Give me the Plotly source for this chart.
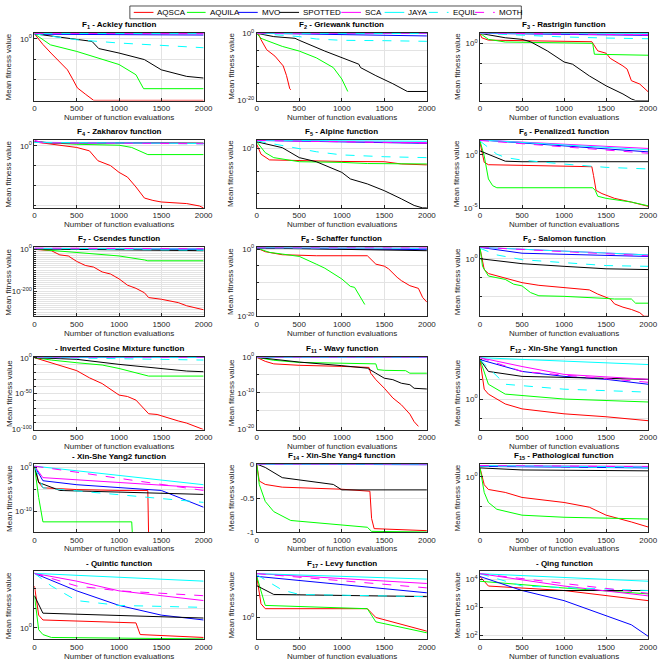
import numpy as np
import plotly.graph_objects as go

W, H = 669, 671
NAMES = ["AQSCA", "AQUILA", "MVO", "SPOTTED", "SCA", "JAYA", "EQUIL", "MOTH"]
COLORS = {"AQSCA": "#ff0000", "AQUILA": "#00ff00", "MVO": "#0000ff", "SPOTTED": "#000000",
          "SCA": "#ff00ff", "JAYA": "#00ffff", "EQUIL": "#00ffff", "MOTH": "#ff00ff"}
DASH = {"EQUIL": "dash", "MOTH": "dash"}

X_TICKS = [0, 500, 1000, 1500, 2000]

# values are log10 of mean fitness (except F14, linear)
F1 = {
    "AQSCA": ([0, 100, 195, 300, 390, 450, 507, 600, 700, 2000], [1.2, -1.4, -3.5, -5.6, -7.6, -9.8, -12.0, -13.5, -15.05, -15.05]),
    "AQUILA": ([0, 190, 500, 800, 1000, 1200, 1290, 2000], [1.2, -1.5, -3.1, -5.1, -6.3, -8.8, -12.2, -12.2]),
    "MVO": ([0, 2000], [1.1, 0.9]),
    "SPOTTED": ([0, 500, 680, 760, 1000, 1300, 1500, 1800, 2000], [1.2, -0.25, -0.65, -2.4, -3.5, -5.1, -7.6, -9.2, -9.6]),
    "SCA": ([0, 2000], [1.3, 1.2]),
    "JAYA": ([0, 2000], [1.3, 1.25]),
    "EQUIL": ([0, 500, 1000, 1500, 2000], [1.2, -0.25, -1.05, -1.7, -2.2]),
    "MOTH": ([0, 2000], [1.3, 1.3]),
}
F2 = {
    "AQSCA": ([20, 50, 117, 214, 311, 350, 388, 400], [-0.2, -1.9, -4.9, -6.8, -9.7, -12.6, -16.5, -16.8]),
    "AQUILA": ([0, 50, 110, 300, 500, 700, 900, 1000, 1070], [-0.1, -1.5, -2.1, -3.9, -5.3, -7.3, -10.2, -13.6, -17.3]),
    "MVO": ([0, 1000, 2000], [0.0, -0.3, -0.8]),
    "SPOTTED": ([0, 200, 450, 500, 800, 1000, 1200, 1220, 1400, 1600, 1770, 2000], [0.0, -1.0, -1.5, -2.1, -5.3, -7.3, -9.2, -10.2, -12.6, -15.0, -17.3, -17.3]),
    "SCA": ([0, 2000], [0.0, -0.05]),
    "JAYA": ([0, 2000], [0.0, -0.1]),
    "EQUIL": ([0, 500, 700, 1000, 1500, 2000], [0.0, -1.0, -1.7, -2.1, -2.2, -2.4]),
    "MOTH": ([0, 2000], [0.0, 0.0]),
}
F3 = {
    "AQSCA": ([0, 20, 100, 500, 1000, 1330, 1360, 1400, 1500, 1550, 1700, 1750, 1800, 1900, 2000], [2.5, 1.4, 0.8, 0.6, 0.5, 0.4, -0.7, -1.9, -2.5, -3.8, -5.7, -6.5, -9.4, -10.25, -12.2]),
    "AQUILA": ([0, 100, 300, 1000, 1340, 1360, 2000], [2.5, 1.0, 0.33, 0.0, 0.0, -2.75, -3.0]),
    "MVO": ([0, 1000, 2000], [2.5, 2.2, 2.0]),
    "SPOTTED": ([0, 300, 500, 600, 800, 1000, 1100, 1300, 1500, 1700, 1800, 1850, 2000], [2.5, 1.4, 1.0, 0.4, -1.9, -4.7, -5.25, -8.2, -10.7, -12.75, -14.0, -14.4, -14.4]),
    "SCA": ([0, 1000, 2000], [2.6, 2.4, 2.25]),
    "JAYA": ([0, 2000], [2.6, 2.5]),
    "EQUIL": ([0, 500, 1000, 1500, 2000], [2.5, 2.0, 1.6, 1.33, 1.15]),
    "MOTH": ([0, 1000, 2000], [2.6, 2.3, 2.1]),
}
F4 = {
    "AQSCA": ([0, 200, 500, 650, 750, 900, 1000, 1100, 1200, 1300, 1400, 1500, 1800, 1950, 2000], [1.0, 0.4, -0.4, -1.25, -3.75, -5.0, -6.7, -7.9, -10.4, -13.2, -13.8, -14.2, -14.6, -15.2, -15.7]),
    "AQUILA": ([0, 500, 1000, 1150, 1340, 2000], [1.0, 0.4, 0.17, -0.4, -2.2, -2.2]),
    "MVO": ([0, 2000], [0.9, 0.6]),
    "SPOTTED": ([0, 200, 2000], [1.1, 0.75, 0.7]),
    "SCA": ([0, 100, 2000], [1.4, 0.8, 0.6]),
    "JAYA": ([0, 2000], [0.9, 0.6]),
    "EQUIL": ([0, 2000], [0.9, 0.5]),
    "MOTH": ([0, 100, 2000], [1.3, 0.8, 0.55]),
}
F5 = {
    "AQSCA": ([0, 50, 150, 500, 1000, 1500, 1700, 2000], [0.95, -1.25, -2.5, -2.7, -2.85, -2.9, -3.4, -3.6]),
    "AQUILA": ([0, 100, 200, 500, 1000, 1300, 2000], [1.5, -0.9, -2.0, -2.9, -3.05, -3.3, -3.4]),
    "MVO": ([0, 2000], [1.8, 1.15]),
    "SPOTTED": ([0, 300, 500, 700, 1000, 1100, 1300, 1500, 1700, 1850, 1950, 2000], [1.5, 0.2, -2.0, -2.9, -5.25, -6.7, -7.8, -9.3, -11.1, -12.55, -13.1, -13.1]),
    "SCA": ([0, 2000], [1.85, 1.3]),
    "JAYA": ([0, 2000], [1.85, 1.6]),
    "EQUIL": ([0, 300, 700, 1000, 1500, 2000], [1.7, 0.6, -0.7, -1.4, -1.8, -2.0]),
    "MOTH": ([0, 2000], [1.8, 1.2]),
}
F6 = {
    "AQSCA": ([0, 50, 100, 500, 1000, 1330, 1350, 1380, 1450, 1600, 1800, 2000], [1.15, -0.7, -0.93, -1.0, -1.1, -1.12, -1.95, -3.35, -3.65, -4.1, -4.45, -4.85]),
    "AQUILA": ([0, 50, 100, 150, 200, 1000, 1340, 1370, 1400, 1500, 1800, 2000], [1.3, -0.1, -2.27, -2.9, -3.1, -3.1, -3.1, -3.35, -3.9, -4.1, -4.45, -4.8]),
    "MVO": ([0, 1000, 2000], [1.4, 0.84, 0.28]),
    "SPOTTED": ([0, 100, 200, 300, 500, 2000], [0.37, 0.06, -0.3, -0.6, -0.65, -0.65]),
    "SCA": ([0, 1000, 2000], [1.4, 1.0, 0.6]),
    "JAYA": ([0, 1000, 2000], [1.4, 0.9, 0.47]),
    "EQUIL": ([0, 100, 200, 300, 500, 1000, 1500, 2000], [1.3, 0.7, 0.06, -0.25, -0.5, -0.87, -1.18, -1.33]),
    "MOTH": ([0, 1000, 2000], [1.35, 0.75, 0.15]),
}
F7 = {
    "AQSCA": ([0, 200, 300, 400, 500, 600, 700, 800, 900, 1000, 1100, 1200, 1300, 1350, 1500, 1700, 1800, 1900, 2000], [-1.5, -8, -28, -33, -59, -78, -86, -109, -119, -142, -172, -187, -208, -231, -239, -255, -270, -278, -289]),
    "AQUILA": ([0, 500, 1000, 1300, 1340, 2000], [0, -16, -33, -52, -56, -56]),
    "MVO": ([0, 2000], [2, -2]),
    "SPOTTED": ([0, 2000], [0, -8]),
    "SCA": ([0, 2000], [4, 2]),
    "JAYA": ([0, 2000], [3, 0]),
    "EQUIL": ([0, 2000], [2, -6]),
    "MOTH": ([0, 2000], [4, 1]),
}
F8 = {
    "AQSCA": ([0, 100, 300, 500, 700, 1300, 1400, 1500, 1550, 1650, 1700, 1800, 1900, 1950, 2000], [0.3, -0.8, -1.7, -1.8, -2.0, -2.0, -4.5, -5.1, -5.9, -8.4, -9.4, -10.9, -11.7, -14.4, -15.8]),
    "AQUILA": ([0, 150, 300, 500, 700, 800, 1000, 1100, 1150, 1200, 1270], [0.3, -1.0, -1.5, -2.2, -4.5, -5.7, -8.9, -11.1, -11.4, -13.4, -16.5]),
    "MVO": ([0, 2000], [0.3, -0.2]),
    "SPOTTED": ([0, 2000], [0.3, -0.5]),
    "SCA": ([0, 2000], [0.4, 0.3]),
    "JAYA": ([0, 2000], [0.4, 0.2]),
    "EQUIL": ([0, 2000], [0.4, 0.1]),
    "MOTH": ([0, 2000], [0.4, 0.3]),
}
F9 = {
    "AQSCA": ([0, 30, 50, 100, 200, 300, 500, 700, 1000, 1300, 1400, 1550, 1600, 1700, 1800, 1900, 1950, 2000], [0.55, -0.22, -0.57, -0.78, -0.91, -1.03, -1.26, -1.4, -1.52, -1.64, -1.86, -2.12, -2.38, -2.55, -2.67, -2.84, -3.03, -3.03]),
    "AQUILA": ([0, 30, 100, 200, 300, 400, 500, 600, 700, 1000, 1300, 1500, 1600, 1800, 1850, 2000], [0.6, -0.4, -0.91, -1.0, -1.09, -1.34, -1.43, -1.78, -1.95, -1.98, -2.03, -2.09, -2.12, -2.12, -2.34, -2.34]),
    "MVO": ([0, 500, 2000], [0.6, 0.29, 0.12]),
    "SPOTTED": ([0, 500, 1000, 1500, 2000], [0.0, -0.26, -0.4, -0.53, -0.57]),
    "SCA": ([0, 2000], [0.6, 0.2]),
    "JAYA": ([0, 2000], [0.6, 0.2]),
    "EQUIL": ([0, 200, 500, 1000, 1500, 2000], [0.55, 0.2, -0.05, -0.22, -0.36, -0.4]),
    "MOTH": ([0, 2000], [0.6, 0.15]),
}
F10 = {
    "AQSCA": ([0, 200, 400, 500, 650, 800, 1000, 1100, 1200, 1350, 1450, 1550, 1700, 1800, 2000], [0, -7, -14, -18, -28, -36, -52, -54, -59, -78, -79, -83, -88, -91, -100]),
    "AQUILA": ([0, 200, 500, 800, 1000, 1100, 1300, 1350, 2000], [0, -3.3, -7, -10.2, -15, -18, -24, -25.6, -25.6]),
    "MVO": ([0, 2000], [0.5, 0.3]),
    "SPOTTED": ([0, 500, 1000, 1500, 1800, 2000], [0, -2.3, -9.3, -15, -18.6, -19.5]),
    "SCA": ([0, 2000], [0.8, 0.6]),
    "JAYA": ([0, 2000], [0.8, 0.4]),
    "EQUIL": ([0, 2000], [0.5, -3.3]),
    "MOTH": ([0, 2000], [0.8, 0.6]),
}
F11 = {
    "AQSCA": ([0, 100, 200, 500, 1000, 1320, 1340, 1400, 1500, 1600, 1700, 1800, 1850, 1900], [-0.1, -1.2, -1.9, -2.3, -2.6, -2.9, -4.5, -6.3, -8.7, -11.4, -13.3, -15.9, -18.0, -19.3]),
    "AQUILA": ([0, 200, 500, 1000, 1400, 1420, 1500, 1750, 1800, 2000], [-0.1, -0.9, -1.5, -1.7, -1.9, -3.5, -3.7, -3.8, -4.5, -4.5]),
    "MVO": ([0, 2000], [0.0, -0.05]),
    "SPOTTED": ([0, 500, 1000, 1300, 1400, 1500, 1600, 1700, 1800, 1850, 2000], [-0.1, -1.4, -2.4, -3.1, -4.5, -5.9, -6.3, -7.3, -7.7, -8.7, -8.9]),
    "SCA": ([0, 2000], [0.0, 0.0]),
    "JAYA": ([0, 2000], [0.0, 0.0]),
    "EQUIL": ([0, 2000], [0.0, -0.02]),
    "MOTH": ([0, 2000], [0.0, 0.0]),
}
F12 = {
    "AQSCA": ([0, 50, 100, 300, 500, 1000, 1500, 2000], [10, 2.5, 1.25, -1.25, -2.5, -3.75, -4.5, -5.5]),
    "AQUILA": ([0, 100, 300, 1000, 2000], [10, 3.75, 1.25, 0, -0.75]),
    "MVO": ([0, 500, 1000, 1500, 2000], [10, 7, 5.75, 5, 3.75]),
    "SPOTTED": ([0, 100, 500, 2000], [10, 7, 5.75, 5]),
    "SCA": ([0, 500, 1000, 2000], [10.5, 8.25, 6.25, 5]),
    "JAYA": ([0, 2000], [10.5, 8.75]),
    "EQUIL": ([0, 300, 1000, 2000], [10, 3.75, 2.5, 1.75]),
    "MOTH": ([0, 500, 2000], [10.5, 7, 4.25]),
}
F13 = {
    "AQSCA": ([0, 50, 100, 500, 1000, 1340, 1350], [0.2, -3.5, -4.7, -5.1, -5.3, -5.3, -16]),
    "AQUILA": ([0, 50, 100, 1150, 1160], [0.2, -6.9, -12.4, -12.4, -16]),
    "MVO": ([0, 100, 500, 1500, 2000], [0.2, -3.1, -4.0, -5.3, -9.1]),
    "SPOTTED": ([0, 50, 300, 2000], [0.2, -3.5, -5.3, -6.2]),
    "SCA": ([0, 100, 1000, 2000], [0.2, -2.4, -3.5, -4.7]),
    "JAYA": ([0, 2000], [0.2, -4.0]),
    "EQUIL": ([0, 100, 2000], [0.2, -4.7, -8.0]),
    "MOTH": ([0, 2000], [0.2, -5.3]),
}
F14 = {
    "AQSCA": ([0, 30, 100, 300, 1000, 1330, 1350, 1380, 2000], [0, -0.25, -0.3, -0.34, -0.37, -0.4, -0.8, -0.95, -0.98]),
    "AQUILA": ([0, 30, 100, 200, 400, 1000, 1300, 1350, 2000], [0, -0.3, -0.55, -0.7, -0.83, -0.9, -0.93, -0.99, -1.0]),
    "MVO": ([0, 2000], [0, -0.01]),
    "SPOTTED": ([0, 100, 300, 600, 900, 1000, 2000], [0, -0.05, -0.2, -0.25, -0.3, -0.38, -0.38]),
    "SCA": ([0, 2000], [0, 0]),
    "JAYA": ([0, 2000], [0, 0]),
    "EQUIL": ([0, 2000], [0, 0]),
    "MOTH": ([0, 2000], [0, 0]),
}
F15 = {
    "AQSCA": ([0, 50, 100, 300, 500, 1000, 1300, 1500, 1800, 2000], [0.3, -0.27, -0.43, -0.53, -0.7, -0.87, -1.03, -1.3, -1.53, -1.7]),
    "AQUILA": ([0, 50, 100, 200, 500, 1000, 2000], [0.3, -0.53, -0.87, -1.1, -1.3, -1.37, -1.43]),
    "MVO": ([0, 2000], [0.35, 0.3]),
    "SPOTTED": ([0, 500, 2000], [0.3, 0.23, 0.2]),
    "SCA": ([0, 2000], [0.38, 0.35]),
    "JAYA": ([0, 2000], [0.38, 0.33]),
    "EQUIL": ([0, 2000], [0.36, 0.3]),
    "MOTH": ([0, 2000], [0.38, 0.34]),
}
F16 = {
    "AQSCA": ([0, 50, 100, 1200, 1250, 2000], [4.3, 1.3, 0.8, 0.5, -0.7, -1.0]),
    "AQUILA": ([0, 50, 100, 200, 2000], [3.3, -0.2, -0.7, -1.0, -1.15]),
    "MVO": ([0, 500, 1000, 1500, 2000], [5.6, 3.8, 2.3, 1.3, 0.8]),
    "SPOTTED": ([0, 100, 2000], [3.3, 1.5, 1.0]),
    "SCA": ([0, 500, 1000, 1500, 2000], [5.6, 4.8, 3.8, 3.3, 2.8]),
    "JAYA": ([0, 2000], [5.6, 4.8]),
    "EQUIL": ([0, 200, 500, 1000, 2000], [5.6, 4.3, 2.8, 2.3, 2.1]),
    "MOTH": ([0, 500, 1000, 2000], [5.6, 4.3, 3.8, 3.3]),
}
F17 = {
    "AQSCA": ([0, 50, 100, 1300, 1400, 2000], [3.75, 1.25, 0.8, 0.8, 0.0, -1.25]),
    "AQUILA": ([0, 100, 1300, 1400, 2000], [3.75, 1.1, 0.8, -0.4, -1.4]),
    "MVO": ([0, 2000], [3.75, 2.25]),
    "SPOTTED": ([0, 200, 2000], [2.9, 2.1, 1.9]),
    "SCA": ([0, 2000], [4.0, 3.1]),
    "JAYA": ([0, 2000], [4.0, 3.5]),
    "EQUIL": ([0, 300, 500, 2000], [3.9, 2.5, 2.1, 1.9]),
    "MOTH": ([0, 2000], [4.0, 2.7]),
}
F18 = {
    "AQSCA": ([0, 100, 1000, 2000], [4.1, 3.76, 3.6, 3.24]),
    "AQUILA": ([0, 1000, 2000], [3.93, 3.69, 3.48]),
    "MVO": ([0, 500, 1000, 1500, 1800, 2000], [4.1, 3.6, 3.24, 2.72, 2.38, 1.97]),
    "SPOTTED": ([0, 2000], [3.6, 3.6]),
    "SCA": ([0, 1000, 2000], [4.2, 3.76, 3.41]),
    "JAYA": ([0, 2000], [4.2, 3.93]),
    "EQUIL": ([0, 500, 2000], [4.2, 3.76, 3.6]),
    "MOTH": ([0, 2000], [4.2, 3.5]),
}

TITLES = ["F<sub>1</sub> - Ackley function", "F<sub>2</sub> - Griewank function", "F<sub>3</sub> - Rastrigin function",
          "F<sub>4</sub> - Zakharov function", "F<sub>5</sub> - Alpine function", "F<sub>6</sub> - Penalized1 function",
          "F<sub>7</sub> - Csendes function", "F<sub>8</sub> - Schaffer function", "F<sub>9</sub> - Salomon function",
          "- Inverted Cosine Mixture function", "F<sub>11</sub> - Wavy function", "F<sub>12</sub> - Xin-She Yang1 function",
          "- Xin-She Yang2 function", "F<sub>14</sub> - Xin-She Yang4 function", "F<sub>15</sub> - Pathological function",
          "- Quintic function", "F<sub>17</sub> - Levy function", "- Qing function"]
PANELS = [F1, F2, F3, F4, F5, F6, F7, F8, F9, F10, F11, F12, F13, F14, F15, F16, F17, F18]

# y axis: (range in log10, labelled exponents, extra grid exponents)
YAXES = [
    ([-15.1, 1.5], [0], [-5, -10, -15]),
    ([-20, 0.2], [0, -20], [-5, -10, -15]),
    ([-14.4, 2.7], [0], [-5, -10]),
    ([-15.7, 1.5], [0], [-5, -10, -15]),
    ([-13.1, 1.9], [0], [-5, -10]),
    ([-5, 1.4], [0, -5], []),
    ([-320, 8], [0, -200], list(range(-10, -320, -10))),
    ([-20, 0.5], [0, -20], [-5, -10, -15]),
    ([-3.03, 0.6], [0], [-1, -2, -3]),
    ([-100, 1.4], [0, -50, -100], [-10, -20, -30, -40, -60, -70, -80, -90]),
    ([-20.2, 0.1], [0, -10, -20], [-5, -15]),
    ([-7.75, 10.75], [0], [5, 10, -5]),
    ([-14.7, 0.67], [0, -10], [-5]),
    None,
    ([-1.87, 0.43], [0], [-1]),
    ([-1.2, 5.8], [0], [2, 4]),
    ([-2.0, 4.2], [0], [2]),
    ([1.86, 4.28], [4, 3, 2], []),
]

COLS = [(33, 205), (259, 432), (486, 657)]
ROWS = [(28, 97), (137, 206), (246, 316), (357, 431), (466, 535), (575, 644)]
YTITLE_X = [7, 233, 463]

# manual legend layout (pixels): line start, line end, text start
LEG_BOX = (130, 1, 528, 14)
LEG_POS = [(134, 154, 156), (188, 207, 209), (240, 260, 262), (282, 302, 304),
           (345, 365, 367), (389, 409, 411), (434, 454, 456), (481, 501, 503)]

FONT = "Liberation Sans, Arial, sans-serif"
AXC = "#262626"


def px(x):
    return x / W


def py(y):
    return 1 - y / H


fig = go.Figure()
ann = []
shapes = []
layout = {}
for i, (title, panel) in enumerate(zip(TITLES, PANELS)):
    r, c = divmod(i, 3)
    x0, x1 = COLS[c]
    y0, y1 = ROWS[r]
    xa = "x" if i == 0 else f"x{i+1}"
    ya = "y" if i == 0 else f"y{i+1}"
    is_log = YAXES[i] is not None
    for name in NAMES:
        xs, ys = panel[name]
        yv = np.power(10.0, np.array(ys, dtype=float)) if is_log else np.array(ys, dtype=float)
        fig.add_trace(go.Scatter(x=xs, y=yv, mode="lines", name=name, xaxis=xa, yaxis=ya,
                                 line=dict(color=COLORS[name], width=1, dash=DASH.get(name, "solid")),
                                 showlegend=False, hoverinfo="skip"))
    common = dict(showline=True, mirror=True, linecolor=AXC, linewidth=0.8, ticks="inside", ticklen=3,
                  tickcolor=AXC, showgrid=True, gridcolor="#e3e3e3", gridwidth=0.6, zeroline=False,
                  tickfont=dict(family=FONT, size=8, color=AXC))
    layout["xaxis" if i == 0 else f"xaxis{i+1}"] = dict(
        domain=[px(x0), px(x1)], anchor=ya, range=[0, 2000],
        tickmode="array", tickvals=X_TICKS, ticktext=[str(v) for v in X_TICKS], **common)
    if is_log:
        rng, labs, grids = YAXES[i]
        yax = dict(type="log", range=rng, tickmode="array",
                   tickvals=[10.0 ** e for e in labs], ticktext=[f"10<sup>{e}</sup>" for e in labs],
                   minor=dict(tickmode="array", tickvals=[10.0 ** e for e in grids], showgrid=True,
                              gridcolor="#e3e3e3", gridwidth=0.6, ticks="inside", ticklen=2, tickcolor=AXC))
    else:
        yax = dict(type="linear", range=[-1.0, 0.0], tickmode="array", tickvals=[0, -0.5, -1],
                   ticktext=["0", "-0.5", "-1"])
    layout["yaxis" if i == 0 else f"yaxis{i+1}"] = dict(
        domain=[py(y1), py(y0)], anchor=xa, **yax, **common)
    ann.append(dict(text=f"<b>{title}</b>", x=px((x0 + x1) / 2), y=py(y0 - 8), xref="paper", yref="paper",
                    showarrow=False, xanchor="center", yanchor="middle",
                    font=dict(family=FONT, size=8, color="#000000")))
    ann.append(dict(text="Number of function evaluations", x=px((x0 + x1) / 2), y=py(y1 + 17),
                    xref="paper", yref="paper", showarrow=False, xanchor="center", yanchor="middle",
                    font=dict(family=FONT, size=8, color=AXC)))
    ann.append(dict(text="Mean fitness value", x=px(YTITLE_X[c]), y=py((y0 + y1) / 2),
                    xref="paper", yref="paper", showarrow=False, xanchor="center", yanchor="middle",
                    textangle=-90, font=dict(family=FONT, size=8, color=AXC)))

# legend (drawn as shapes + text)
bx0, by0, bx1, by1 = LEG_BOX
shapes.append(dict(type="rect", xref="paper", yref="paper", x0=px(bx0), x1=px(bx1), y0=py(by1), y1=py(by0),
                   line=dict(color=AXC, width=0.8), fillcolor="white", layer="above"))
ly = (by0 + by1) / 2
for name, (lx0, lx1, tx) in zip(NAMES, LEG_POS):
    shapes.append(dict(type="line", xref="paper", yref="paper", x0=px(lx0), x1=px(lx1), y0=py(ly), y1=py(ly),
                       line=dict(color=COLORS[name], width=1, dash="dash" if name in DASH else "solid"),
                       layer="above"))
    ann.append(dict(text=name, x=px(tx), y=py(ly), xref="paper", yref="paper", showarrow=False,
                    xanchor="left", yanchor="middle", font=dict(family=FONT, size=8, color="#000000")))

fig.update_layout(
    width=W, height=H, margin=dict(l=0, r=0, t=0, b=0),
    paper_bgcolor="white", plot_bgcolor="white",
    annotations=ann, shapes=shapes, showlegend=False,
    **layout,
)
fig.write_html("out.html")
